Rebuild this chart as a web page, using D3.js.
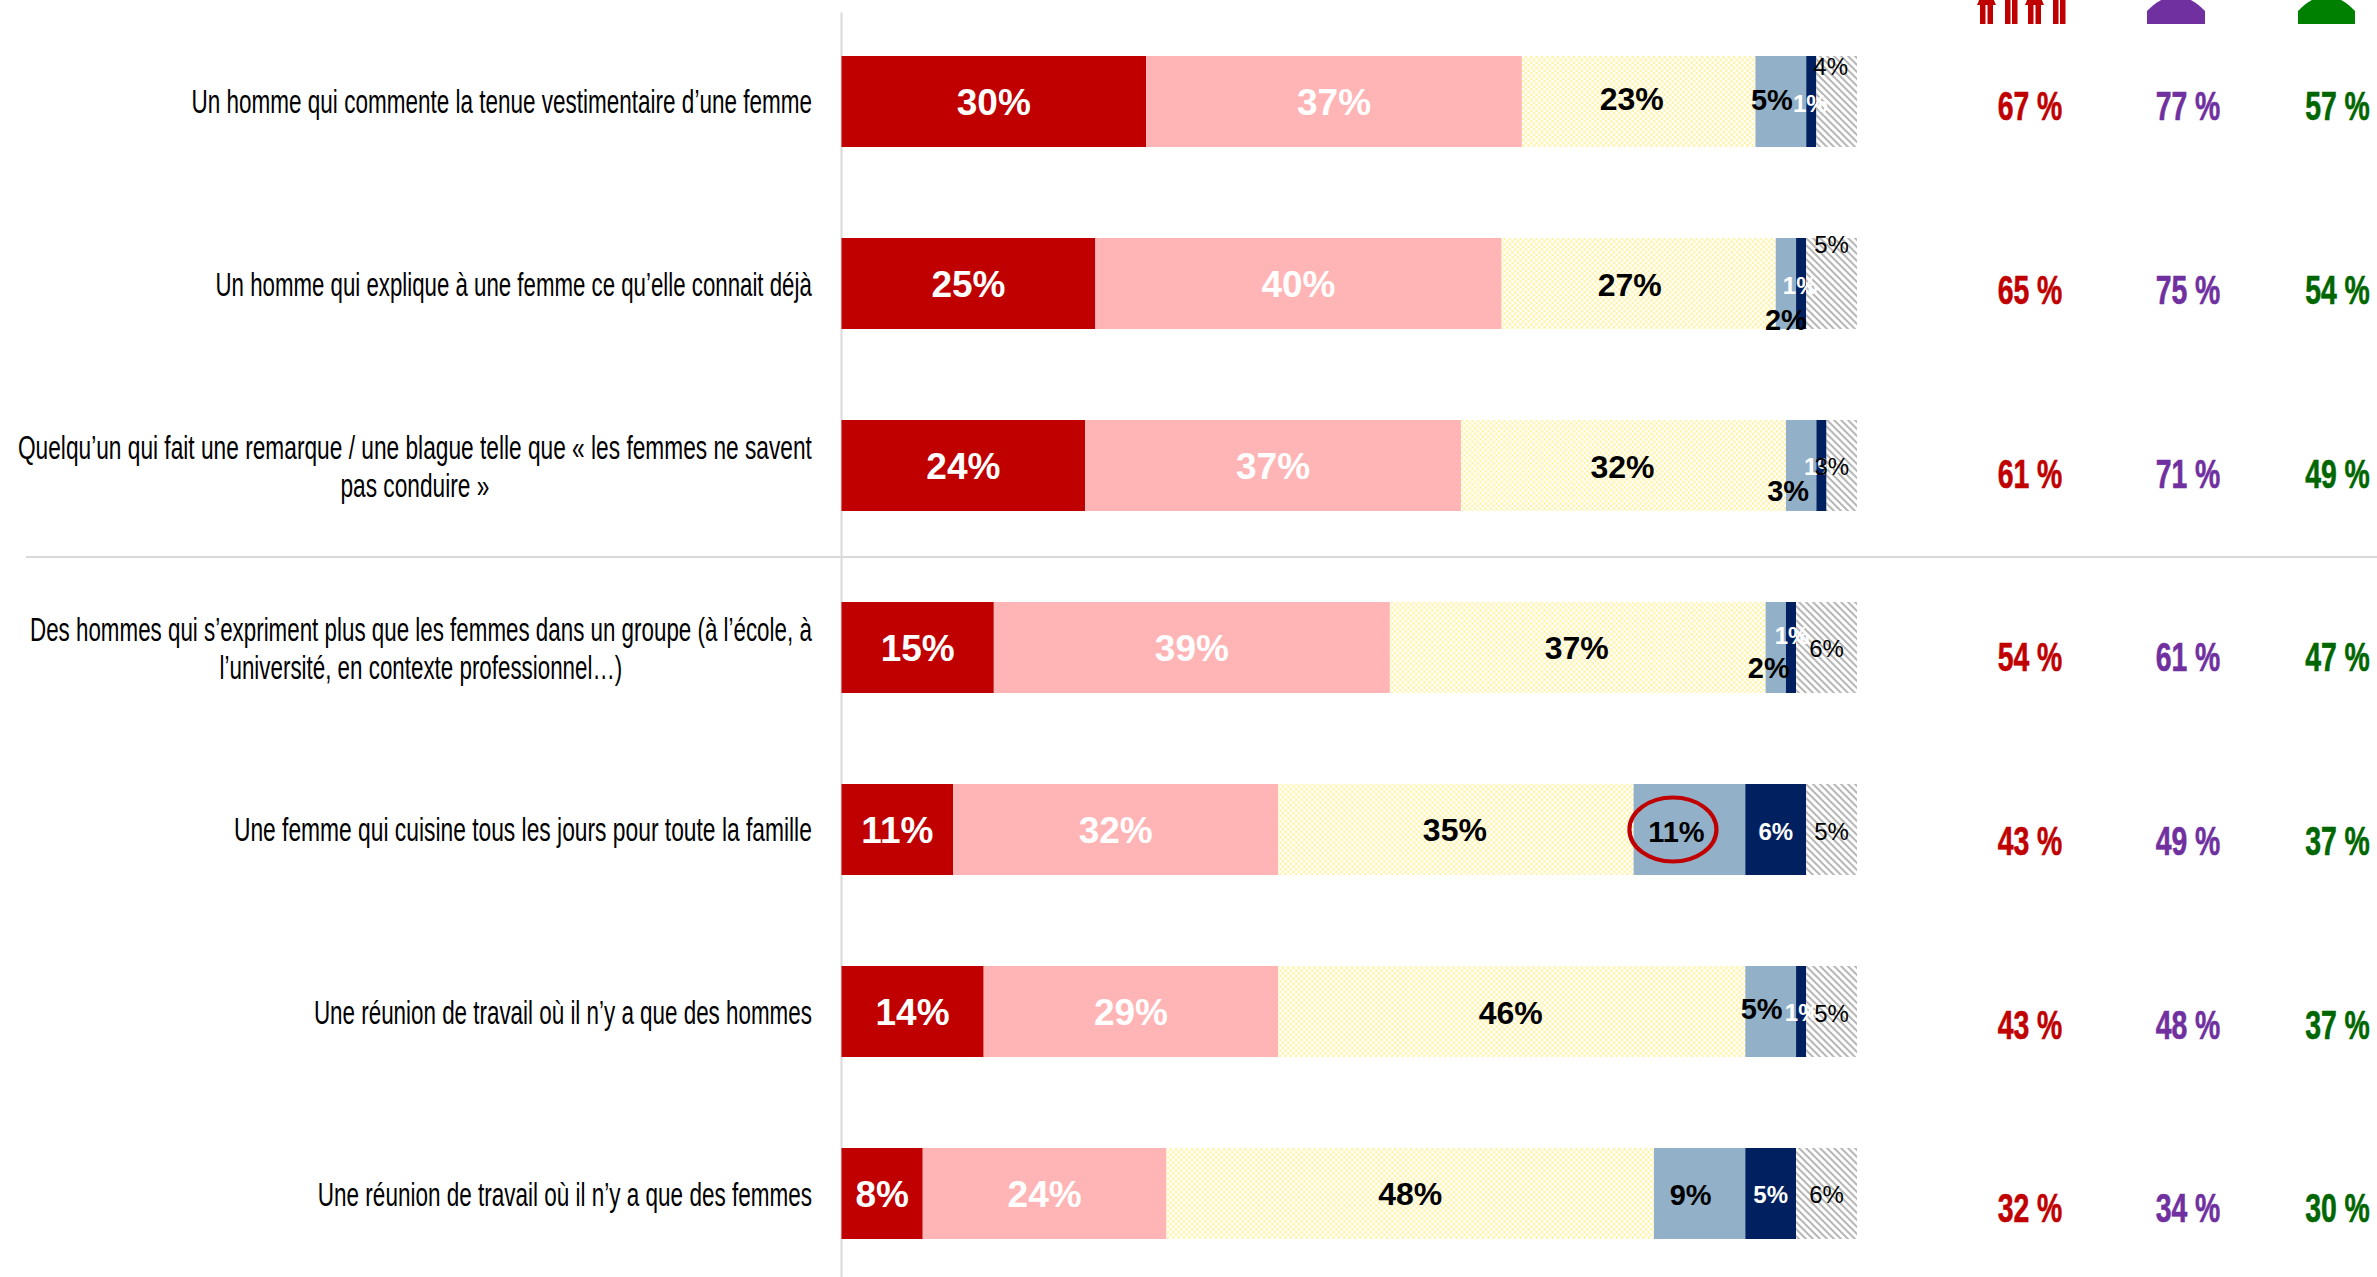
<!DOCTYPE html>
<html lang="fr">
<head>
<meta charset="utf-8">
<script src="https://cdn.jsdelivr.net/npm/d3@7"></script>
<style>
html,body{margin:0;padding:0;background:#fff;overflow:hidden}
svg{display:block}
text{font-family:"Liberation Sans",Arial,sans-serif}
</style>
</head>
<body>
<svg id="c" width="2377" height="1277"></svg>
<script>
const categories = [
  ["Un homme qui commente la tenue vestimentaire d’une femme"],
  ["Un homme qui explique à une femme ce qu’elle connait déjà"],
  ["Quelqu’un qui fait une remarque / une blague telle que « les femmes ne savent","pas conduire »"],
  ["Des hommes qui s’expriment plus que les femmes dans un groupe (à l’école, à","l’université, en contexte professionnel…)"],
  ["Une femme qui cuisine tous les jours pour toute la famille"],
  ["Une réunion de travail où il n’y a que des hommes"],
  ["Une réunion de travail où il n’y a que des femmes"]
];
const seriesA = [30,25,24,15,11,14,8];
const seriesB = [37,40,37,39,32,29,24];
const seriesC = [23,27,32,37,35,46,48];
const seriesD = [5,2,3,2,11,5,9];
const seriesE = [1,1,1,1,6,1,5];
const seriesF = [4,5,3,6,5,5,6];
const totalAll = [67,65,61,54,43,43,32];
const totalWomen = [77,75,71,61,49,48,34];
const totalMen = [57,54,49,47,37,37,30];

const W=2377,H=1277;
const svg=d3.select("#c");
const defs=svg.append("defs");

const cell=2.67;
const dots=defs.append("pattern").attr("id","pDots").attr("patternUnits","userSpaceOnUse").attr("width",2*cell).attr("height",2*cell);
dots.append("rect").attr("width",2*cell).attr("height",2*cell).attr("fill","#fff");
dots.append("rect").attr("width",cell).attr("height",cell).attr("fill","#FFF4B0");
dots.append("rect").attr("x",cell).attr("y",cell).attr("width",cell).attr("height",cell).attr("fill","#FFF4B0");

const hp=7;
const hatch=defs.append("pattern").attr("id","pHatch").attr("patternUnits","userSpaceOnUse").attr("width",hp).attr("height",hp);
hatch.append("rect").attr("width",hp).attr("height",hp).attr("fill","#fff");
hatch.append("path").attr("d",`M-2,-2L${hp+2},${hp+2}M-2,${hp-2}L2,${hp+2}M${hp-2},-2L${hp+2},2`).attr("stroke","#B8B8B8").attr("stroke-width",2);

const styles=[
 {fill:"#C00000",color:"#fff",size:37,weight:"bold"},
 {fill:"#FFB5B5",color:"#fff",size:37,weight:"bold"},
 {fill:"url(#pDots)",color:"#000",size:32,weight:"bold"},
 {fill:"#92B1C9",color:"#000",size:29,weight:"bold"},
 {fill:"#002060",color:"#fff",size:24,weight:"bold"},
 {fill:"url(#pHatch)",color:"#000",size:24,weight:"normal"}
];
const allSeries=[seriesA,seriesB,seriesC,seriesD,seriesE,seriesF];
// manual label nudges [dx,dy] per row, per series (labels moved by hand in the original)
const nudges=[
 [[0,0],[0,0],[-7,-3],[-9,-2],[-1,2],[-6,-35]],
 [[0,0],[0,0],[-9,1],[0,36],[-1,2],[0,-39]],
 [[0,0],[0,0],[-1,1],[-13,25],[0,1],[-10,1]],
 [[0,0],[0,0],[-1,0],[-7,20],[1,-12],[0,1]],
 [[0,0],[0,0],[-1,0],[-13,2],[0,2],[0,2]],
 [[0,0],[0,0],[-1,1],[-9,-3],[1,1],[0,2]],
 [[0,0],[0,0],[0,0],[-9,1],[0,1],[0,1]]
];

const idx=d3.range(categories.length);
const x=d3.scaleLinear().domain([0,100]).range([841.5,1857]);
const y=d3.scaleBand().domain(idx).range([10.5,1284.5]).paddingInner(.5).paddingOuter(.25);
const yLab=d3.scalePoint().domain(idx).range([106,1208]);

// axis line
const ax=svg.append("g").attr("transform","translate(841,0)").call(d3.axisLeft(d3.scaleLinear().domain([0,1]).range([12,1277])).tickValues([]).tickSize(0));
ax.select("path").attr("stroke","#D9D9D9").attr("stroke-width",2).attr("fill","none");
// separator
svg.append("line").attr("x1",26).attr("x2",W).attr("y1",557).attr("y2",557).attr("stroke","#D9D9D9").attr("stroke-width",2);

// bars
const stack=idx.map(i=>{let c=0;return allSeries.map((s,k)=>{const d={i,k,v:s[i],a:c,b:c+s[i]};c+=s[i];return d;});});
const flat=stack.flat();
svg.append("g").selectAll("rect").data(flat).join("rect")
 .attr("x",d=>x(d.a)).attr("width",d=>x(d.b)-x(d.a))
 .attr("y",d=>y(d.i)).attr("height",y.bandwidth())
 .attr("fill",d=>styles[d.k].fill);
// labels
svg.append("g").selectAll("text").data(flat).join("text")
 .attr("x",d=>x((d.a+d.b)/2)+nudges[d.i][d.k][0])
 .attr("y",d=>y(d.i)+y.bandwidth()/2+nudges[d.i][d.k][1])
 .attr("dy",".355em").attr("text-anchor","middle")
 .attr("font-size",d=>styles[d.k].size).attr("font-weight",d=>styles[d.k].weight)
 .attr("fill",d=>styles[d.k].color)
 .text(d=>d.v+"%");

// highlight ellipse
svg.append("ellipse").attr("cx",x(83.5)-16.5).attr("cy",y(4)+y.bandwidth()/2).attr("rx",43.5).attr("ry",32)
 .attr("fill","none").attr("stroke","#C00000").attr("stroke-width",4.2);

// category labels (horizontally condensed to the width each label has in the picture)
const catScale=[.662,.655,.668,.658,.671,.659,.662], catRight=812, lineGap=38;
const catY=[101.5,285,466.5,648.5,830,1013,1195];
const catG=svg.append("g");
categories.forEach((lines,i)=>{
  const g=catG.append("g");
  const ts=lines.map((l,j)=>g.append("text").attr("font-size",34).attr("fill","#000").attr("text-anchor","middle").attr("dy",".33em").text(l));
  const mw=d3.max(ts,t=>t.node().getComputedTextLength())*catScale[i];
  const cx=catRight-mw/2;
  ts.forEach((t,j)=>t.attr("transform",`translate(${cx},${catY[i]+(j-(lines.length-1)/2)*lineGap}) scale(${catScale[i]},1)`));
});

// totals
const totals=[{vals:totalAll,cx:2030,color:"#C00000"},{vals:totalWomen,cx:2188,color:"#7030A0"},{vals:totalMen,cx:2337.5,color:"#006600"}];
totals.forEach(t=>{
  svg.append("g").selectAll("text").data(t.vals).join("text")
   .attr("transform",(d,i)=>`translate(${t.cx},${yLab(i)}) scale(.71,1)`)
   .attr("dy",".36em").attr("text-anchor","middle").attr("font-size",40).attr("font-weight","bold")
   .attr("stroke",t.color).attr("stroke-width",.6)
   .attr("fill",t.color).text(d=>d+" %");
});

// icons (clipped at the top of the page)
const ic=svg.append("g").attr("fill","#C00000");
[1977,2025].forEach(o=>{
  ic.append("path").attr("d",`M${o+3},-2H${o+16}L${o+19},5H${o}Z`);
  ic.append("rect").attr("x",o+3).attr("y",0).attr("width",5.5).attr("height",24);
  ic.append("rect").attr("x",o+10.5).attr("y",0).attr("width",5.5).attr("height",24);
  ic.append("rect").attr("x",o+28).attr("y",0).attr("width",5.5).attr("height",24);
  ic.append("rect").attr("x",o+35).attr("y",0).attr("width",5.5).attr("height",24);
});
[[2147,2205,"#7030A0"],[2298,2355,"#008000"]].forEach(([a,b,c])=>{
  const m=(a+b)/2;
  svg.append("path").attr("d",`M${a},24V11C${a+8},3 ${m-14},-3 ${m},-3C${m+14},-3 ${b-8},3 ${b},11V24Z`).attr("fill",c);
});
</script>
</body>
</html>
